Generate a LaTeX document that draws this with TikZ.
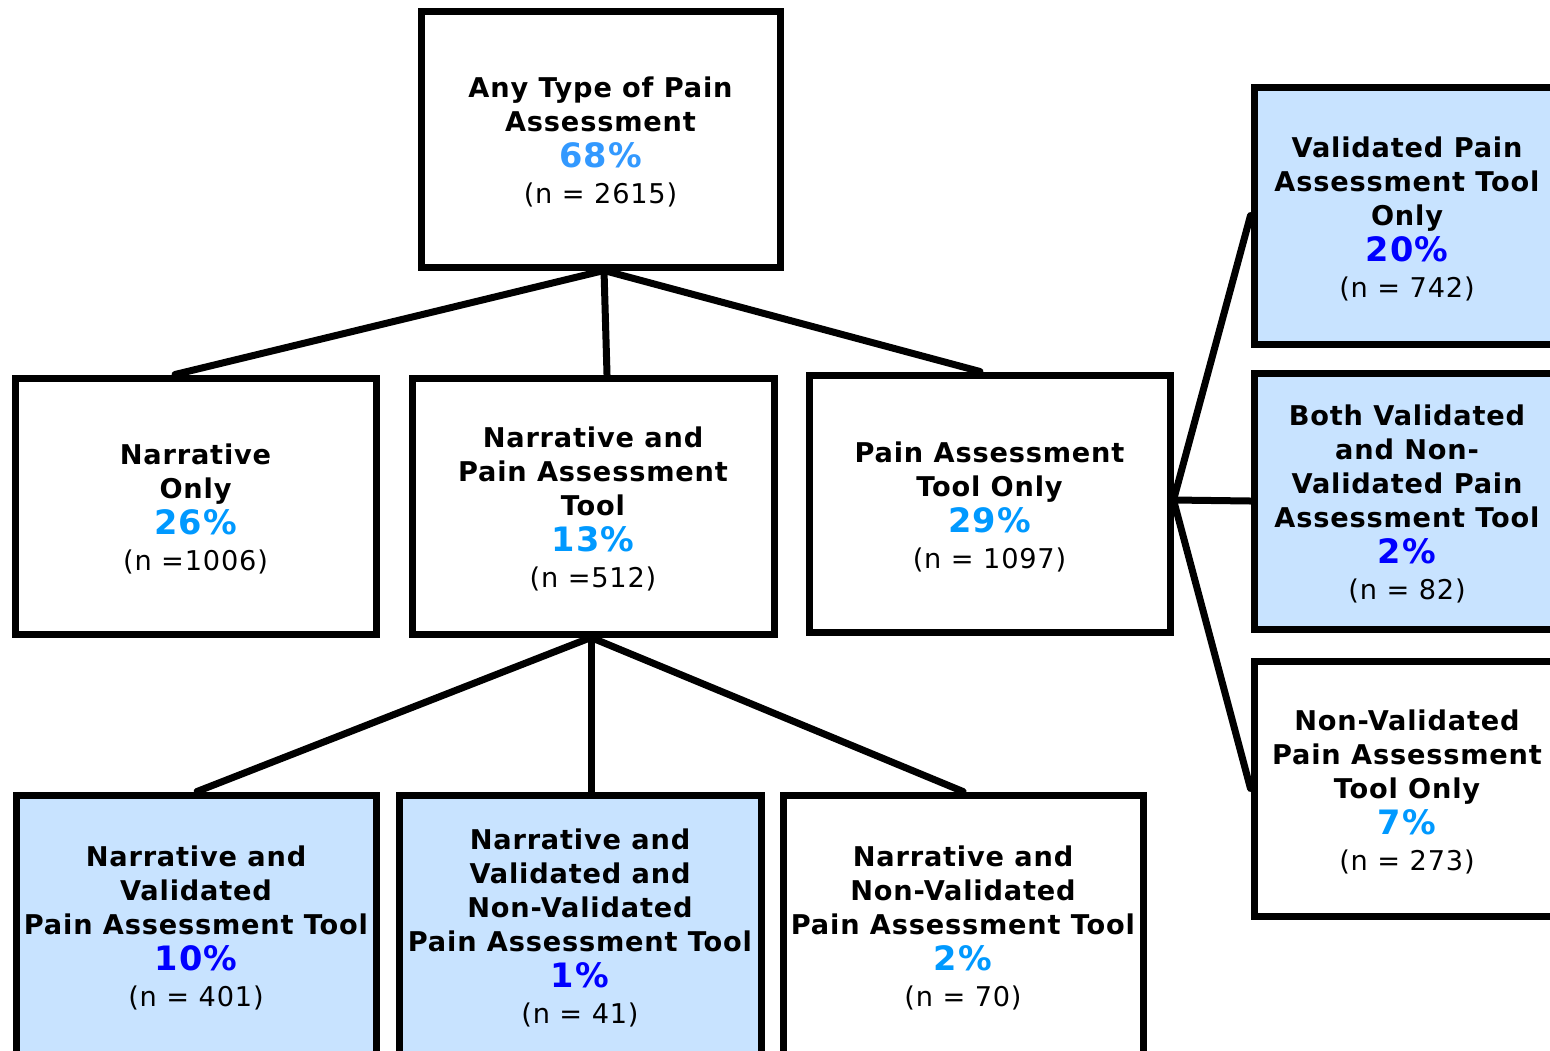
\documentclass[tikz,border=0pt]{standalone}
\usepackage{fontspec}
\setmainfont{DejaVu Sans}[LetterSpace=3]
\definecolor{pctlight}{HTML}{0099FF}
\definecolor{pcttop}{HTML}{3399FF}
\definecolor{pctdark}{HTML}{0000FF}
\definecolor{boxblue}{HTML}{C8E3FF}
\newcommand{\pcx}[2]{{\fontsize{16.8}{18}\selectfont\bfseries\color{#1}#2}}
\newcommand{\nnx}[1]{{\mdseries #1}}
\newcommand{\tpx}{\rule{0pt}{13.3pt}}
\begin{document}
\begin{tikzpicture}[x=0.5pt,y=-0.5pt,
  box/.style={draw=black, line width=3.5pt, fill=white, align=center,
    font=\fontsize{13.6}{17}\selectfont\bfseries, inner sep=0pt},
  bluebox/.style={box, fill=boxblue},
  conn/.style={draw=black, line width=3.5pt, line cap=round}]
\useasboundingbox (0,0) rectangle (1550,1050);
\clip (0,0) rectangle (1550,1050);

\node[box, minimum width=179.5pt, minimum height=128pt] (top) at (600.5,139)
  {\tpx Any Type of Pain\\Assessment\\[1pt]\pcx{pcttop}{68\%}\\[1pt]\nnx{(n = 2615)}};

\node[box, minimum width=180.5pt, minimum height=128pt] (nonly) at (195.5,506)
  {\tpx Narrative\\Only\\[1pt]\pcx{pctlight}{26\%}\\[1pt]\nnx{(n =1006)}};

\node[box, minimum width=181pt, minimum height=128pt] (npat) at (593,506)
  {\tpx Narrative and\\Pain Assessment\\Tool\\[1pt]\pcx{pctlight}{13\%}\\[1pt]\nnx{(n =512)}};

\node[box, minimum width=180.5pt, minimum height=128.5pt] (patonly) at (989.5,503.5)
  {\tpx Pain Assessment\\Tool Only\\[1pt]\pcx{pctlight}{29\%}\\[1pt]\nnx{(n = 1097)}};

\node[bluebox, minimum width=153pt, minimum height=128.5pt] (vonly) at (1407,215.5)
  {\tpx Validated Pain\\Assessment Tool\\Only\\[1pt]\pcx{pctdark}{20\%}\\[1pt]\nnx{(n = 742)}};

\node[bluebox, minimum width=153pt, minimum height=128pt] (both) at (1407,501)
  {\tpx Both Validated\\and Non-\\Validated Pain\\Assessment Tool\\[1pt]\pcx{pctdark}{2\%}\\[1pt]\nnx{(n = 82)}};

\node[box, minimum width=153pt, minimum height=127.5pt] (nvonly) at (1407,788.5)
  {\tpx Non-Validated\\Pain Assessment\\Tool Only\\[1pt]\pcx{pctlight}{7\%}\\[1pt]\nnx{(n = 273)}};

\node[bluebox, minimum width=180pt, minimum height=130pt] (bl) at (196,925)
  {\tpx Narrative and\\Validated\\Pain Assessment Tool\\[1pt]\pcx{pctdark}{10\%}\\[1pt]\nnx{(n = 401)}};

\node[bluebox, minimum width=181pt, minimum height=130pt] (bm) at (580,925)
  {\tpx Narrative and\\Validated and\\Non-Validated\\Pain Assessment Tool\\[1pt]\pcx{pctdark}{1\%}\\[1pt]\nnx{(n = 41)}};

\node[box, minimum width=180pt, minimum height=130pt] (br) at (963,925)
  {\tpx Narrative and\\Non-Validated\\Pain Assessment Tool\\[1pt]\pcx{pctlight}{2\%}\\[1pt]\nnx{(n = 70)}};

\coordinate (tj) at ([xshift=1.75pt]top.south);
\draw[conn] (tj) -- ([xshift=-10.25pt]nonly.north);
\draw[conn] (tj) -- ([xshift=7pt]npat.north);
\draw[conn] (tj) -- ([xshift=-4.75pt]patonly.north);

\coordinate (mj) at ([xshift=-1pt]npat.south);
\draw[conn] (mj) -- ([xshift=0.5pt]bl.north);
\draw[conn] (mj) -- ([xshift=5.5pt]bm.north);
\draw[conn] (mj) -- (br.north);

\coordinate (rj) at ([yshift=1.75pt]patonly.east);
\draw[conn] (rj) -- (vonly.west);
\draw[conn] (rj) -- (both.west);
\draw[conn] (rj) -- (nvonly.west);
\end{tikzpicture}
\end{document}
